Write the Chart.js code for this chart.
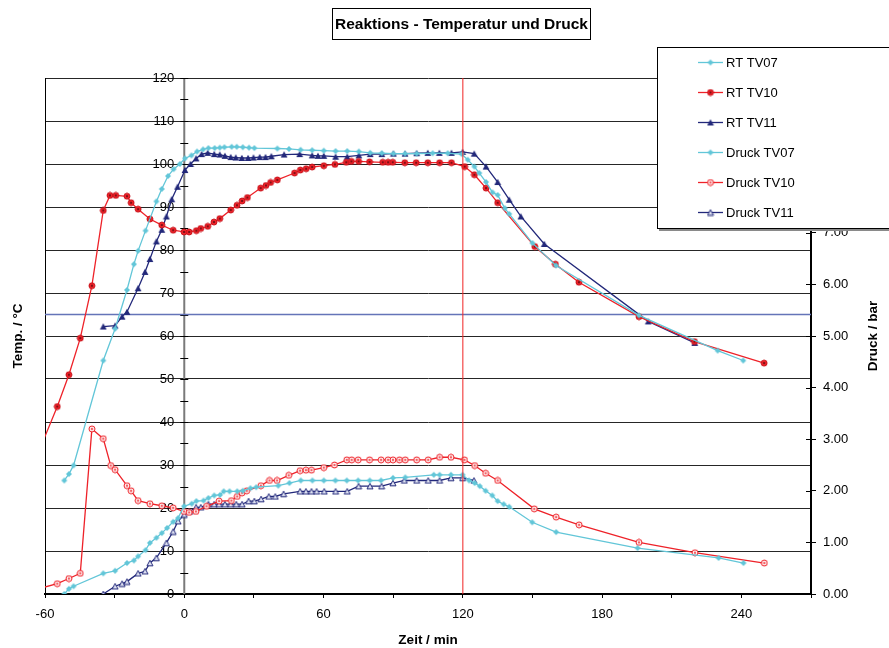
<!DOCTYPE html>
<html>
<head>
<meta charset="utf-8">
<script src="https://cdn.jsdelivr.net/npm/chart.js@4.4.0/dist/chart.umd.min.js"></script>
<style>
  body { margin: 0; background: #fff; }
  #wrap { width: 889px; height: 648px; }
</style>
</head>
<body>
<div id="wrap"><canvas id="reaktion" width="889" height="648"></canvas></div>
<script>
// Zeit in min, Temperatur in °C, Druck in bar
const rtTv07Zeit = [-51.7,-49.7,-47.7,-34.9,-29.8,-24.7,-21.7,-19.9,-16.7,-12.0,-9.7,-7.0,-4.6,-1.9,0.3,3.1,5.5,8.1,10.4,13.1,15.3,17.3,20.4,22.6,25.2,27.9,30.2,40.1,45.1,50.1,55.1,60.1,65.2,70.2,75.2,80.1,85.1,90.1,95.1,100.1,107.0,113.5,119.5,122.1,125.0,127.1,130.0,132.8,135.0,138.1,140.0,150.0,160.1,195.9,229.8,240.8];
const rtTv07Temp = [26.4,27.9,29.9,54.3,61.7,70.7,76.7,79.8,84.5,91.3,94.2,97.2,98.8,100.0,101.3,102.0,102.9,103.4,103.7,103.7,103.8,103.9,104.0,104.0,103.9,103.8,103.7,103.6,103.5,103.3,103.2,103.1,103.0,103.0,102.9,102.6,102.5,102.4,102.4,102.4,102.5,102.5,102.3,101.0,99.4,97.9,95.8,93.4,92.8,89.7,88.4,81.6,76.4,64.8,56.6,54.3];

const rtTv10Zeit = [-60.5,-54.7,-49.7,-44.8,-39.8,-34.9,-32.0,-29.5,-24.7,-22.9,-19.9,-14.8,-9.7,-4.8,-0.1,2.1,5.2,7.1,10.1,12.8,15.3,20.0,22.7,24.9,27.2,32.9,35.2,37.2,40.1,47.5,50.0,52.5,55.1,60.1,64.9,69.8,72.0,75.1,79.8,85.5,87.8,89.8,95.0,99.9,104.9,110.0,115.1,120.8,125.0,130.0,135.0,151.0,159.9,170.0,195.9,219.8,249.8];
const rtTv10Temp = [36.0,43.6,51.0,59.5,71.7,89.2,92.7,92.7,92.5,91.0,89.5,87.2,85.8,84.6,84.2,84.2,84.5,85.0,85.5,86.5,87.3,89.3,90.4,91.4,92.2,94.4,95.0,95.7,96.3,97.9,98.6,98.9,99.3,99.6,99.9,100.4,100.6,100.6,100.5,100.4,100.4,100.4,100.3,100.3,100.3,100.3,100.3,99.4,97.5,94.4,91.0,80.8,76.7,72.5,64.5,58.7,53.7];

const rtTv11Zeit = [-34.9,-29.8,-26.8,-24.7,-19.9,-16.9,-14.8,-12.0,-9.7,-7.7,-5.4,-2.9,0.3,2.7,5.1,7.5,10.1,12.9,15.3,17.5,20.0,22.2,24.8,27.5,29.8,32.5,35.0,37.5,43.0,49.7,55.1,57.6,60.1,65.2,70.2,75.2,80.1,85.1,90.1,95.1,100.1,104.9,109.9,115.1,119.9,124.9,130.0,135.0,140.0,145.0,155.1,199.9,219.9];
const rtTv11Temp = [62.2,62.4,64.5,65.6,71.1,74.9,77.9,82.0,84.7,87.8,91.8,94.7,98.6,100.0,101.3,102.3,102.6,102.3,102.2,101.9,101.6,101.5,101.4,101.4,101.5,101.6,101.6,101.8,102.2,102.3,102.0,101.9,101.9,101.7,101.7,102.0,102.3,102.3,102.4,102.4,102.5,102.6,102.6,102.6,102.8,102.4,99.4,95.8,91.7,87.8,81.4,63.4,58.4];

const drTv07Zeit = [-51.7,-49.7,-47.7,-34.9,-29.8,-24.7,-21.7,-19.9,-16.7,-14.8,-12.0,-9.7,-7.4,-4.8,-2.7,-0.1,3.2,5.2,8.3,10.4,12.9,15.4,17.0,19.5,22.8,25.2,28.5,31.0,40.5,45.3,50.2,55.2,60.1,65.1,70.0,74.9,79.9,84.8,89.9,95.2,107.5,110.0,114.9,119.9,122.7,125.1,127.3,129.8,132.7,135.0,137.6,140.0,149.9,160.2,195.3,230.2,240.9];
const drTv07Druck = [0.00,0.10,0.15,0.40,0.45,0.60,0.65,0.73,0.85,0.99,1.09,1.18,1.28,1.40,1.47,1.70,1.75,1.80,1.81,1.86,1.91,1.92,1.99,1.99,1.99,2.00,2.05,2.07,2.10,2.15,2.20,2.20,2.20,2.20,2.20,2.20,2.20,2.20,2.25,2.26,2.31,2.31,2.31,2.31,2.20,2.15,2.09,2.00,1.91,1.80,1.74,1.69,1.39,1.20,0.89,0.70,0.60];

const drTv10Zeit = [-60.5,-54.7,-49.7,-44.8,-39.8,-34.9,-31.7,-29.8,-24.7,-22.9,-19.9,-14.8,-9.7,-4.8,-0.1,2.1,5.0,9.6,15.0,20.3,22.8,24.9,26.9,33.0,36.7,40.0,45.0,49.9,52.4,54.8,60.1,64.7,70.0,72.1,74.9,79.8,84.8,87.8,89.9,92.7,95.2,100.1,105.1,110.0,114.9,120.7,125.1,129.8,135.0,150.8,160.2,170.1,195.9,220.0,249.9];
const drTv10Druck = [0.13,0.20,0.30,0.40,3.20,3.01,2.49,2.41,2.10,2.00,1.81,1.75,1.71,1.67,1.60,1.58,1.60,1.70,1.80,1.81,1.89,1.96,2.00,2.10,2.20,2.20,2.30,2.39,2.40,2.40,2.45,2.50,2.60,2.60,2.60,2.60,2.60,2.60,2.60,2.60,2.60,2.60,2.60,2.65,2.65,2.60,2.49,2.34,2.20,1.65,1.49,1.34,1.00,0.80,0.60];

const drTv11Zeit = [-34.9,-29.8,-26.8,-24.7,-19.9,-16.9,-14.8,-12.0,-7.7,-4.8,-2.7,0.0,2.3,5.1,7.1,10.4,12.9,15.0,17.5,20.0,22.4,24.9,27.7,30.2,33.1,36.4,39.2,42.8,49.9,52.4,54.8,57.0,60.3,65.2,70.2,75.1,80.0,85.0,89.9,94.8,100.1,105.1,110.0,114.9,119.9,124.8];
const drTv11Druck = [0.00,0.15,0.20,0.24,0.40,0.44,0.60,0.70,0.99,1.21,1.41,1.54,1.60,1.68,1.68,1.74,1.74,1.74,1.74,1.74,1.74,1.74,1.80,1.80,1.84,1.89,1.89,1.94,1.99,1.99,1.99,1.99,1.99,1.99,1.99,2.09,2.09,2.09,2.15,2.20,2.20,2.20,2.20,2.25,2.25,2.20];

// Hilfslinien
const markeZeit = [120, 120];
const markeZeitWert = [0, 120];
const markeTempZeit = [-60, 270];
const markeTemp = [65, 65];

const xTicks = [-60, 0, 60, 120, 180, 240];

const CYAN = '#62c6d8', RED = '#ee2229', NAVY = '#22287a';
const FONT = 'Liberation Sans, Arial, sans-serif';

function pts(xs, ys) { return xs.map((x, i) => ({ x: x, y: ys[i] })); }

// kleine Markerbilder, 8x8 px
function marker(kind, color) {
  const c = document.createElement('canvas');
  c.width = 8; c.height = 8;
  const g = c.getContext('2d');
  g.lineWidth = 1;
  if (kind === 'diamond') {
    g.fillStyle = color;
    g.beginPath(); g.moveTo(4, 1); g.lineTo(7, 4); g.lineTo(4, 7); g.lineTo(1, 4); g.closePath(); g.fill();
  } else if (kind === 'dot') {
    g.fillStyle = color; g.strokeStyle = '#c8141c';
    g.beginPath(); g.arc(4, 4, 3, 0, Math.PI * 2); g.fill(); g.stroke();
    g.fillStyle = '#5a0b10';
    g.beginPath(); g.arc(4, 4, 1, 0, Math.PI * 2); g.fill();
  } else if (kind === 'ring') {
    g.fillStyle = '#fde8e8'; g.strokeStyle = color;
    g.beginPath(); g.arc(4, 4, 3, 0, Math.PI * 2); g.fill(); g.stroke();
    g.fillStyle = color;
    g.beginPath(); g.arc(4, 4, 0.9, 0, Math.PI * 2); g.fill();
  } else if (kind === 'tri') {
    g.fillStyle = color;
    g.beginPath(); g.moveTo(4, 0.8); g.lineTo(7.4, 7); g.lineTo(0.6, 7); g.closePath(); g.fill();
  } else if (kind === 'triOpen') {
    g.fillStyle = '#dfe2f2'; g.strokeStyle = color;
    g.beginPath(); g.moveTo(4, 1.2); g.lineTo(7, 6.8); g.lineTo(1, 6.8); g.closePath(); g.fill(); g.stroke();
  }
  return c;
}

function serie(label, data, color, kind, axis, firstHidden) {
  return {
    label: label, data: data, yAxisID: axis,
    borderColor: color, backgroundColor: color, borderWidth: 1.3,
    pointStyle: marker(kind, color),
    pointRadius: firstHidden ? (ctx => ctx.dataIndex === 0 ? 0 : 3) : 3,
    pointHoverRadius: 3, tension: 0, fill: false
  };
}

const datasets = [
  serie('RT TV07', pts(rtTv07Zeit, rtTv07Temp), CYAN, 'diamond', 'y'),
  serie('RT TV10', pts(rtTv10Zeit, rtTv10Temp), RED, 'dot', 'y', true),
  serie('RT TV11', pts(rtTv11Zeit, rtTv11Temp), NAVY, 'tri', 'y'),
  serie('Druck TV07', pts(drTv07Zeit, drTv07Druck), CYAN, 'diamond', 'y2'),
  serie('Druck TV10', pts(drTv10Zeit, drTv10Druck), RED, 'ring', 'y2', true),
  serie('Druck TV11', pts(drTv11Zeit, drTv11Druck), NAVY, 'triOpen', 'y2'),
  { label: '', data: pts(markeZeit, markeZeitWert), yAxisID: 'y', borderColor: 'rgba(240,40,40,0.85)',
    borderWidth: 1.2, pointRadius: 0, order: -1 },
  { label: '', data: pts(markeTempZeit, markeTemp), yAxisID: 'y', borderColor: '#6474b8',
    borderWidth: 1.3, pointRadius: 0, order: 5 }
];

const deko = {
  id: 'deko',
  beforeDatasetsDraw(chart) {
    const { ctx, chartArea: a, scales } = chart;
    const x0 = scales.x.getPixelForValue(0);
    ctx.save();
    ctx.strokeStyle = '#7a7a7a'; ctx.lineWidth = 2;
    ctx.beginPath(); ctx.moveTo(x0, a.top); ctx.lineTo(x0, a.bottom); ctx.stroke();
    ctx.strokeStyle = '#000'; ctx.lineWidth = 1;
    for (let v = 0; v <= 120; v += 5) {
      const y = Math.round(scales.y.getPixelForValue(v)) + 0.5;
      ctx.beginPath(); ctx.moveTo(x0 - 4, y); ctx.lineTo(x0 + 4, y); ctx.stroke();
    }
    for (let v = 0; v <= 10; v++) {
      const y = Math.round(scales.y2.getPixelForValue(v)) + 0.5;
      ctx.beginPath(); ctx.moveTo(a.right - 5, y); ctx.lineTo(a.right, y); ctx.stroke();
    }
    ctx.fillStyle = '#000'; ctx.font = '13px ' + FONT;
    ctx.textAlign = 'right'; ctx.textBaseline = 'middle';
    for (let v = 0; v <= 120; v += 10) {
      ctx.fillText(String(v), x0 - 10, scales.y.getPixelForValue(v));
    }
    ctx.restore();
  },
  afterDraw(chart) {
    const { ctx, chartArea: a } = chart;
    ctx.save();
    // Titel
    ctx.strokeStyle = '#000'; ctx.lineWidth = 1;
    ctx.fillStyle = '#fff';
    ctx.fillRect(332, 8, 259, 32); ctx.strokeRect(332.5, 8.5, 258, 31);
    ctx.fillStyle = '#000'; ctx.font = 'bold 15.5px ' + FONT;
    ctx.textAlign = 'center'; ctx.textBaseline = 'middle';
    ctx.fillText('Reaktions - Temperatur und Druck', 461.5, 24.5);
    // Achsentitel
    ctx.font = 'bold 13.5px ' + FONT;
    ctx.fillText('Zeit / min', (a.left + a.right) / 2, 640);
    ctx.save(); ctx.translate(18, (a.top + a.bottom) / 2); ctx.rotate(-Math.PI / 2);
    ctx.fillText('Temp. / °C', 0, 0); ctx.restore();
    ctx.save(); ctx.translate(873, (a.top + a.bottom) / 2); ctx.rotate(-Math.PI / 2);
    ctx.fillText('Druck / bar', 0, 0); ctx.restore();
    // Legende
    ctx.fillStyle = '#8a8a8a'; ctx.fillRect(659, 49, 240, 182);
    ctx.fillStyle = '#fff'; ctx.fillRect(657, 47, 240, 182);
    ctx.strokeStyle = '#000'; ctx.strokeRect(657.5, 47.5, 240, 181);
    ctx.font = '13px ' + FONT; ctx.textAlign = 'left'; ctx.textBaseline = 'middle';
    chart.data.datasets.slice(0, 6).forEach((ds, i) => {
      const y = 62.5 + i * 30;
      ctx.strokeStyle = ds.borderColor; ctx.lineWidth = 1.3;
      ctx.beginPath(); ctx.moveTo(698, y); ctx.lineTo(723, y); ctx.stroke();
      ctx.drawImage(ds.pointStyle, 706.5, y - 4);
      ctx.fillStyle = '#000';
      ctx.fillText(ds.label, 726, y + 0.5);
    });
    ctx.restore();
  }
};

new Chart(document.getElementById('reaktion').getContext('2d'), {
  type: 'line',
  data: { datasets: datasets },
  options: {
    responsive: false,
    animation: false,
    layout: { padding: { top: 78, left: 0, right: 0, bottom: 0 } },
    plugins: { legend: { display: false }, tooltip: { enabled: false }, title: { display: false } },
    scales: {
      x: {
        type: 'linear', min: -60, max: 270,
        afterFit: s => { s.height = 54; },
        afterBuildTicks: s => { s.ticks = []; for (let v = -60; v <= 270; v += 30) s.ticks.push({ value: v }); },
        ticks: {
          autoSkip: false, maxRotation: 0, padding: 9, color: '#000',
          font: { family: FONT, size: 13 },
          callback: v => xTicks.includes(v) ? String(v) : ''
        },
        grid: { drawOnChartArea: false, tickLength: 4, color: '#000' },
        border: { color: '#000', width: 2 }
      },
      y: {
        position: 'left', min: 0, max: 120,
        afterFit: s => { s.width = 45; },
        ticks: { display: false, stepSize: 10 },
        grid: { color: '#262626', lineWidth: 1, drawTicks: false },
        border: { color: '#000', width: 1 }
      },
      y2: {
        position: 'right', min: 0, max: 10,
        afterFit: s => { s.width = 78; },
        ticks: {
          stepSize: 1, padding: 7, color: '#000',
          font: { family: FONT, size: 13 },
          callback: v => Number(v).toFixed(2)
        },
        grid: { drawOnChartArea: false, tickLength: 5, color: '#000' },
        border: { color: '#000', width: 2 }
      }
    }
  },
  plugins: [deko]
});
</script>
</body>
</html>
